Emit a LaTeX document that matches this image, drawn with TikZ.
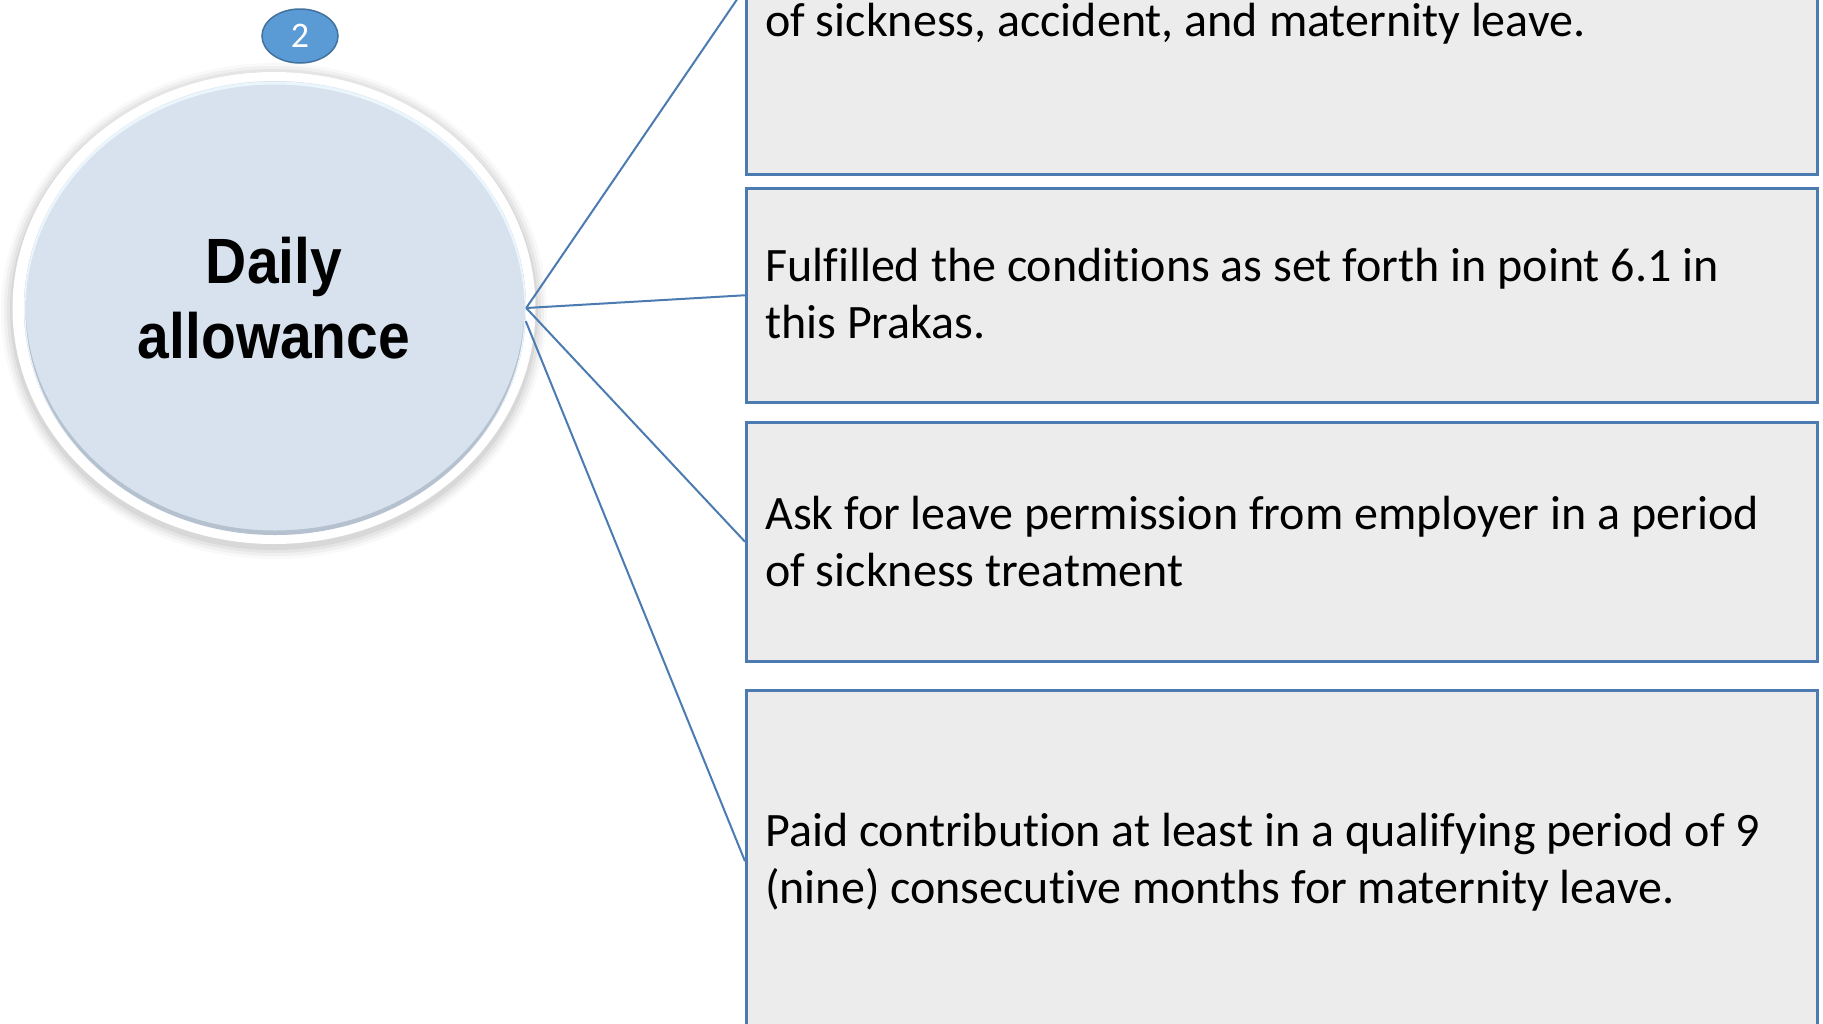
\documentclass[tikz,border=0pt]{standalone}
\usepackage{fontspec}
\setmainfont[Ligatures=NoCommon]{Carlito}
\newfontfamily\headfont[FakeStretch=0.89]{Liberation Sans}
\usetikzlibrary{shapes.geometric}
\definecolor{boxfill}{RGB}{236,236,236}
\definecolor{boxline}{RGB}{76,123,178}
\definecolor{circfill}{RGB}{215,226,238}
\definecolor{badgefill}{RGB}{91,155,213}
\definecolor{badgeline}{RGB}{65,113,156}
\definecolor{rimdark}{RGB}{120,132,148}
\definecolor{rimlight}{RGB}{235,245,252}
\begin{document}
\begin{tikzpicture}[x=1pt,y=-1pt,
  cbox/.style={draw=boxline, line width=2.5pt, fill=boxfill, rectangle, inner sep=0pt,
               minimum width=1071pt, anchor=north west},
  ctext/.style={anchor=base west, align=left, inner sep=0pt, font=\fontsize{48}{57}\selectfont},
  link/.style={draw=boxline, line width=2pt},
  bigell/.style={ellipse, inner sep=0pt}]
\useasboundingbox (0,0) rectangle (1823,1023);
\clip (0,0) rectangle (1823,1023);
\fill[white] (0,0) rectangle (1823,1023);

% soft shadow around the circle
\foreach \d/\o in {12/0.025, 9/0.035, 6/0.045, 3/0.055}
  \fill[black, opacity=\o] (274,311) ellipse [x radius=261+\d, y radius=236+\d];

% outer white ring and inner disc
\node[bigell, fill=white, minimum width=523pt, minimum height=472pt] (ring) at (274,308) {};
\node[bigell, fill=circfill, minimum width=502pt, minimum height=454pt] (ell) at (275,308) {};
\begin{scope}
  \clip (275,308) ellipse [x radius=251, y radius=227];
  \draw[rimdark, opacity=0.35, line width=5pt] (275,305) ellipse [x radius=252, y radius=228];
  \draw[rimlight, line width=3pt] (275,310) ellipse [x radius=251, y radius=227];
\end{scope}

\node[font=\headfont\bfseries\fontsize{64}{75}\selectfont, align=center, anchor=base, inner sep=0pt]
  (title) at (274,358) {Daily\\allowance};

% badge
\node[ellipse, fill=badgefill, draw=badgeline, line width=1.5pt, minimum width=76pt,
      minimum height=54pt, inner sep=0pt, text=white, font=\fontsize{36}{36}\selectfont]
  (badge) at (300,36) {2};

% boxes
\node[cbox, minimum height=373pt] (b1) at (745,-200) {};
\node[cbox, minimum height=214pt] (b2) at (745,187) {};
\node[cbox, minimum height=239pt] (b3) at (745,421) {};
\node[cbox, minimum height=342pt] (b4) at (745,689) {};

% connectors
\draw[link] (ell.east) -- (b1.west);
\draw[link] (ell.east) -- (b2.west);
\draw[link] (ell.east) -- (b3.west);
\draw[link] (ell.-3) -- (b4.west);

% texts
\node[ctext] (t1) at (765,36) {of sickness, accident, and maternity leave.};
\node[ctext] (t2) at (765,338) {Fulfilled the conditions as set forth in point 6.1 in\\this Prakas.};
\node[ctext] (t3) at (765,586) {Ask for leave permission from employer in a period\\of sickness treatment};
\node[ctext] (t4) at (765,903) {Paid contribution at least in a qualifying period of 9\\(nine) consecutive months for maternity leave.};
\end{tikzpicture}
\end{document}
